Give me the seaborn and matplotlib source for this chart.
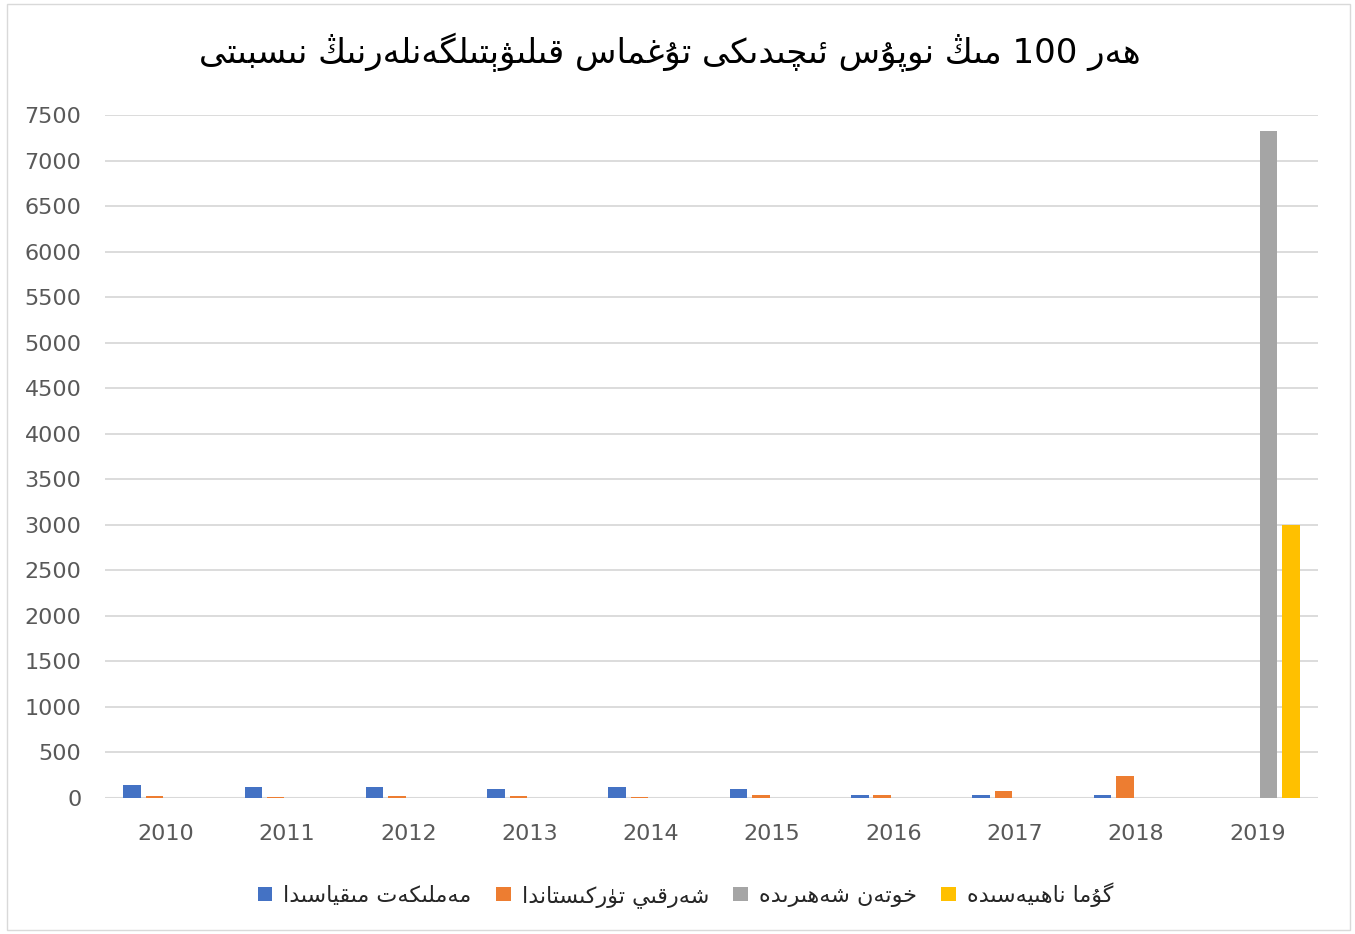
import re
import pandas as pd
import numpy as np
import matplotlib
matplotlib.use("Agg")
import matplotlib.pyplot as plt
from matplotlib.patches import Patch, Rectangle
import seaborn as sns

# Chart data (per 100,000 population)
years = ["2010", "2011", "2012", "2013", "2014", "2015", "2016", "2017", "2018", "2019"]
series = ["مەملىكەت مىقياسىدا", "شەرقىي تۈركىستاندا", "خوتەن شەھىرىدە", "گۇما ناھىيەسىدە"]
national = [143, 124, 124, 102, 117, 95, 33, 28, 28, np.nan]
east_turkistan = [20, 15, 18, 18, 15, 36, 30, 77, 245, np.nan]
hotan_city = [np.nan] * 9 + [7320]
guma_county = [np.nan] * 9 + [3000]
colors = ["#4472C4", "#ED7D31", "#A5A5A5", "#FFC000"]
title = "ھەر 100 مىڭ نوپۇس ئىچىدىكى تۇغماس قىلىۋېتىلگەنلەرنىڭ نىسبىتى"

# matplotlib has no Arabic shaping, so pick presentation forms by hand
DUAL = {
    'ب': 'FE8F FE90 FE91 FE92', 'پ': 'FB56 FB57 FB58 FB59', 'ت': 'FE95 FE96 FE97 FE98',
    'ج': 'FE9D FE9E FE9F FEA0', 'چ': 'FB7A FB7B FB7C FB7D', 'خ': 'FEA5 FEA6 FEA7 FEA8',
    'س': 'FEB1 FEB2 FEB3 FEB4', 'ش': 'FEB5 FEB6 FEB7 FEB8', 'غ': 'FECD FECE FECF FED0',
    'ف': 'FED1 FED2 FED3 FED4', 'ق': 'FED5 FED6 FED7 FED8', 'ك': 'FED9 FEDA FEDB FEDC',
    'گ': 'FB92 FB93 FB94 FB95', 'ڭ': 'FBD3 FBD4 FBD5 FBD6', 'ل': 'FEDD FEDE FEDF FEE0',
    'م': 'FEE1 FEE2 FEE3 FEE4', 'ن': 'FEE5 FEE6 FEE7 FEE8', 'ھ': 'FBAA FBAB FBAC FBAD',
    'ې': 'FBE4 FBE5 FBE6 FBE7', 'ى': 'FEEF FEF0 FBE8 FBE9', 'ي': 'FEF1 FEF2 FEF3 FEF4',
    'ئ': 'FE89 FE8A FE8B FE8C',
}
RIGHT = {
    'ا': 'FE8D FE8E', 'د': 'FEA9 FEAA', 'ر': 'FEAD FEAE', 'ز': 'FEAF FEB0', 'ژ': 'FB8A FB8B',
    'و': 'FEED FEEE', 'ۇ': 'FBD7 FBD8', 'ۆ': 'FBD9 FBDA', 'ۈ': 'FBDB FBDC', 'ۋ': 'FBDE FBDF',
    'ە': 'FEE9 FEEA',
}


def ug(s):
    out = []
    for i, ch in enumerate(s):
        prev = s[i - 1] if i > 0 else ''
        nxt = s[i + 1] if i + 1 < len(s) else ''
        jp = prev in DUAL
        if ch in DUAL:
            jn = nxt in DUAL or nxt in RIGHT
            idx = (3 if jn else 1) if jp else (2 if jn else 0)
            out.append(chr(int(DUAL[ch].split()[idx], 16)))
        elif ch in RIGHT:
            out.append(chr(int(RIGHT[ch].split()[1 if jp else 0], 16)))
        else:
            out.append(ch)
    tokens = re.findall(r'[0-9]+|.', ''.join(out))
    return ''.join(reversed(tokens))


df = pd.DataFrame({
    "year": years * 4,
    "series": [s for s in series for _ in years],
    "value": national + east_turkistan + hotan_city + guma_county,
}).dropna()

sns.set_style("white")
plt.rcParams['font.family'] = ['DejaVu Sans']

fig = plt.figure(figsize=(13.55, 9.34), dpi=100)
ax = fig.add_axes([105 / 1355, 136 / 934, 1213 / 1355, 683 / 934])

sns.barplot(data=df, x="year", y="value", hue="series", order=years, hue_order=series,
            palette=colors, saturation=1, width=0.74, gap=0.22, errorbar=None, linewidth=0,
            legend=False, ax=ax, zorder=3)

ax.set_xlim(-0.5, 9.5)
ax.set_ylim(0, 7500)
ax.set_yticks(range(0, 7501, 500))
ax.grid(axis="y", color="#D9D9D9", linewidth=1.3, zorder=0)
ax.set_axisbelow(True)
ax.axhline(0, color="#D9D9D9", linewidth=1.5, zorder=1)
for sp in ax.spines.values():
    sp.set_visible(False)
ax.tick_params(axis="y", length=0, pad=17, labelsize=16, labelcolor="#595959")
ax.tick_params(axis="x", length=0, pad=19, labelsize=16, labelcolor="#595959")
ax.set_xlabel("")
ax.set_ylabel("")

fig.text(0.494, 1 - 52 / 934, ug(title), ha="center", va="center", fontsize=24.5, color="#000000")

handles = [Patch(facecolor=c, edgecolor="none") for c in colors]
fig.legend(handles, [ug(s) for s in series], loc="center", bbox_to_anchor=(0.506, 1 - 895 / 934),
           ncol=4, frameon=False, fontsize=16, handlelength=0.65, handleheight=0.65,
           handletextpad=0.5, columnspacing=1.1)

fig.patches.append(Rectangle((7 / 1355, 4 / 934), 1343 / 1355, 926 / 934, transform=fig.transFigure,
                             fill=False, edgecolor="#D9D9D9", linewidth=1))

fig.savefig("out.png", dpi=100)
